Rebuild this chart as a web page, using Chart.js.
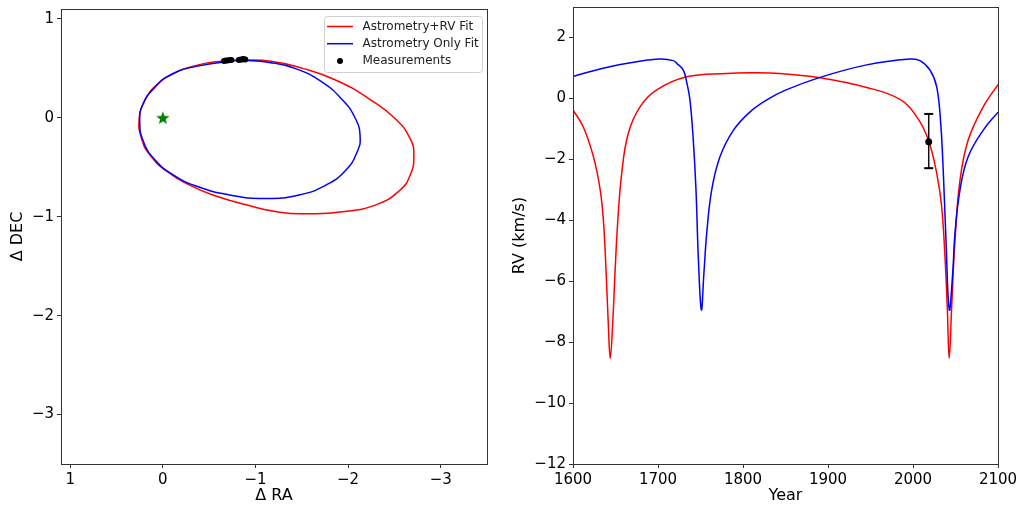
<!DOCTYPE html>
<html>
<head>
<meta charset="utf-8">
<script src="https://cdn.jsdelivr.net/npm/chart.js@4.4.0/dist/chart.umd.min.js"></script>
<style>
  body { margin: 0; background: #fff; }
  .panel { position: absolute; top: 0; width: 512px; height: 510px; }
</style>
</head>
<body>
<div class="panel" style="left:0"><canvas id="orbitChart" width="512" height="510"></canvas></div>
<div class="panel" style="left:512px"><canvas id="rvChart" width="512" height="510"></canvas></div>
<script>
// ---- datos orbita (panel izquierdo) ----
var raTicks  = [1, 0, -1, -2, -3];
var decTicks = [1, 0, -1, -2, -3];

// Astrometry+RV Fit
var fitRA  = [-0.83, -0.65, -0.36, -0.11, 0.07, 0.19, 0.255, 0.23, 0.14, -0.04, -0.29, -0.54, -0.90, -1.26, -1.58, -1.94, -2.30, -2.55, -2.67, -2.71, -2.67, -2.51, -2.23, -1.87, -1.51, -1.15, -0.83];
var fitDec = [0.585, 0.575, 0.53, 0.445, 0.33, 0.18, -0.01, -0.21, -0.375, -0.54, -0.68, -0.78, -0.88, -0.955, -0.97, -0.95, -0.88, -0.74, -0.58, -0.375, -0.21, -0.01, 0.19, 0.38, 0.50, 0.575, 0.585];

// Astrometry Only Fit
var astRA  = [-0.83, -0.36, -0.075, 0.10, 0.22, 0.25, 0.21, 0.086, -0.11, -0.36, -0.72, -1.10, -1.47, -1.76, -1.975, -2.10, -2.13, -2.08, -1.94, -1.72, -1.44, -1.15, -0.83];
var astDec = [0.585, 0.52, 0.43, 0.295, 0.13, -0.04, -0.24, -0.425, -0.575, -0.69, -0.78, -0.815, -0.78, -0.68, -0.53, -0.34, -0.19, -0.01, 0.18, 0.36, 0.495, 0.56, 0.585];

// Measurements
var measRA  = [-0.66, -0.68, -0.70, -0.72, -0.74, -0.82, -0.84, -0.86, -0.87, -0.89];
var measDec = [0.575, 0.58, 0.58, 0.585, 0.585, 0.585, 0.59, 0.59, 0.595, 0.59];

var starRA = [0], starDec = [0];

var legendLabels = ['Astrometry+RV Fit', 'Astrometry Only Fit', 'Measurements'];

// ---- datos RV (panel derecho) ----
var yearTicks = [1600, 1700, 1800, 1900, 2000, 2100];
var rvTicks   = [2, 0, -2, -4, -6, -8, -10, -12];

var fitYears = [1600, 1612, 1624, 1632, 1636, 1639, 1641.5, 1643.8, 1646.7, 1649.4, 1652.5, 1657.3, 1665, 1679, 1698.5, 1733.8, 1780.8, 1808, 1843.5, 1890.6, 1945.5, 1984.7, 2004.3, 2018, 2027.9, 2033.7, 2037.6, 2040.3, 2042.6, 2045.5, 2049.4, 2055.3, 2065, 2082.7, 2100];
var fitRV    = [-0.38, -0.93, -1.91, -3.0, -4.1, -5.74, -7.38, -8.53, -7.38, -5.74, -4.1, -2.46, -1.15, -0.27, 0.28, 0.71, 0.82, 0.84, 0.82, 0.68, 0.36, -0.03, -0.6, -1.36, -2.46, -3.55, -5.19, -6.84, -8.53, -6.84, -4.65, -2.68, -1.36, -0.27, 0.45];

var astYears = [1600, 1635.6, 1675, 1702.4, 1718, 1722, 1729.8, 1734, 1737.6, 1741.5, 1744.7, 1747.4, 1751, 1754, 1757.3, 1763.2, 1773, 1788.6, 1808, 1828, 1850, 1890.6, 1945.5, 1996.5, 2008.2, 2020, 2027.9, 2032.6, 2035.7, 2038.8, 2042.7, 2046.7, 2049.4, 2055.3, 2065, 2082.7, 2100];
var astRV    = [0.72, 0.99, 1.2, 1.29, 1.24, 1.15, 0.93, 0.5, -0.05, -1.36, -3.0, -5.19, -6.94, -5.74, -4.43, -3.0, -1.91, -1.05, -0.45, -0.05, 0.27, 0.69, 1.10, 1.29, 1.24, 0.93, 0.38, -0.82, -2.46, -4.65, -6.94, -5.74, -4.43, -3.0, -1.91, -1.04, -0.45];

var obsYear = [2018.5], obsRV = [-1.42], obsLo = [-2.29], obsHi = [-0.51];

// ---- utilidades ----
Chart.defaults.font.family = "'DejaVu Sans', sans-serif";
Chart.defaults.color = '#000';

function pts(xs, ys) {
  return xs.map(function (x, i) { return { x: x, y: ys[i] }; });
}

function fmt(v) {
  return v < 0 ? '\u2212' + Math.abs(v) : String(v);
}

function eje(min, max, ticks, title, pos, reverse, titlePad) {
  return {
    type: 'linear', position: pos, min: min, max: max, reverse: !!reverse,
    afterBuildTicks: function (s) { s.ticks = ticks.map(function (v) { return { value: v }; }); },
    afterFit: function (s) {
      if (pos === 'left') { s.width = 61; s.paddingTop = 0; s.paddingBottom = 0; }
      else { s.height = 46; s.paddingLeft = 0; s.paddingRight = 0; }
    },
    grid: { drawOnChartArea: false, drawTicks: true, tickLength: 4, color: '#333' },
    border: { display: true, color: '#333', width: 1 },
    ticks: { font: { size: 15 }, padding: 3, maxRotation: 0, autoSkip: false, callback: fmt },
    title: { display: true, text: title, font: { size: 16, lineHeight: 1 }, padding: titlePad }
  };
}

// marco completo alrededor del area de trazado
var marco = {
  id: 'marco',
  afterDraw: function (chart) {
    var a = chart.chartArea, c = chart.ctx;
    c.save();
    c.strokeStyle = '#333';
    c.lineWidth = 1;
    c.strokeRect(Math.round(a.left) + 0.5, Math.round(a.top) + 0.5, Math.round(a.width), Math.round(a.height));
    c.restore();
  }
};

// leyenda dentro del panel de la orbita
var leyenda = {
  id: 'leyenda',
  afterDraw: function (chart) {
    var a = chart.chartArea, c = chart.ctx;
    var w = 158, h = 56, x = a.right - 5 - w, y = a.top + 7;
    c.save();
    c.beginPath();
    c.roundRect(x + 0.5, y + 0.5, w, h, 3);
    c.fillStyle = 'rgba(255,255,255,0.8)';
    c.fill();
    c.strokeStyle = '#d0d0d0';
    c.lineWidth = 1;
    c.stroke();
    var colores = ['#ff0000', '#0000ff', '#000000'];
    c.font = "12px 'DejaVu Sans'";
    c.textBaseline = 'middle';
    for (var i = 0; i < 3; i++) {
      var yy = y + 10.5 + i * 17.2;
      if (i < 2) {
        c.strokeStyle = colores[i];
        c.lineWidth = 1.5;
        c.beginPath();
        c.moveTo(x + 3, yy);
        c.lineTo(x + 29, yy);
        c.stroke();
      } else {
        c.fillStyle = '#000';
        c.beginPath();
        c.arc(x + 16, yy, 3, 0, Math.PI * 2);
        c.fill();
      }
      c.fillStyle = '#222';
      c.fillText(legendLabels[i], x + 38.5, yy);
    }
    c.restore();
  }
};

// estrella verde rellena (marcador '*')
var estrella = document.createElement('canvas');
estrella.width = 16; estrella.height = 16;
(function () {
  var c = estrella.getContext('2d');
  c.beginPath();
  for (var i = 0; i < 10; i++) {
    var r = i % 2 === 0 ? 7 : 2.9;
    var ang = -Math.PI / 2 + i * Math.PI / 5;
    c.lineTo(8 + r * Math.cos(ang), 8.5 + r * Math.sin(ang));
  }
  c.closePath();
  c.fillStyle = '#008000';
  c.fill();
})();

// ---- grafico orbita ----
new Chart(document.getElementById('orbitChart'), {
  type: 'line',
  data: {
    datasets: [
      { label: legendLabels[2], data: pts(measRA, measDec), showLine: false, backgroundColor: '#000', borderColor: '#000', pointRadius: 3, pointBorderWidth: 0 },
      { label: legendLabels[1], data: pts(astRA, astDec), borderColor: '#0000ff', borderWidth: 1.5, pointRadius: 0, tension: 0.5 },
      { label: legendLabels[0], data: pts(fitRA, fitDec), borderColor: '#ff0000', borderWidth: 1.5, pointRadius: 0, tension: 0.5 },
      { label: 'star', data: pts(starRA, starDec), showLine: false, pointStyle: estrella, pointRadius: 8 }
    ]
  },
  options: {
    responsive: false,
    animation: false,
    layout: { padding: { top: 7, right: 25, left: 0, bottom: 0 } },
    plugins: { legend: { display: false }, tooltip: { enabled: false } },
    scales: {
      x: eje(-3.5, 1.1, raTicks, '\u0394 RA', 'bottom', true, { top: 0, bottom: 6 }),
      y: eje(-3.5, 1.1, decTicks, '\u0394 DEC', 'left', false, { top: 10, bottom: 0 })
    }
  },
  plugins: [marco, leyenda]
});

// ---- grafico RV ----
new Chart(document.getElementById('rvChart'), {
  type: 'line',
  data: {
    datasets: [
      { label: 'obs', data: pts(obsYear, obsRV), showLine: false, backgroundColor: '#000', borderColor: '#000', pointRadius: 3.5, pointBorderWidth: 0 },
      { label: 'err', data: pts(obsYear.concat(obsYear), obsHi.concat(obsLo)), borderColor: '#111', borderWidth: 1.5, pointStyle: 'line', pointRadius: 4.5, pointBorderWidth: 2, pointBorderColor: '#000' },
      { label: legendLabels[1], data: pts(astYears, astRV), borderColor: '#0000ff', borderWidth: 1.5, pointRadius: 0, tension: 0.4 },
      { label: legendLabels[0], data: pts(fitYears, fitRV), borderColor: '#ff0000', borderWidth: 1.5, pointRadius: 0, tension: 0.4 }
    ]
  },
  options: {
    responsive: false,
    animation: false,
    layout: { padding: { top: 7, right: 26, left: 0, bottom: 0 } },
    plugins: { legend: { display: false }, tooltip: { enabled: false } },
    scales: {
      x: eje(1600, 2100, yearTicks, 'Year', 'bottom', false, { top: 0, bottom: 6 }),
      y: eje(-12, 3, rvTicks, 'RV (km/s)', 'left', false, { top: 0, bottom: 0 })
    }
  },
  plugins: [marco]
});
</script>
</body>
</html>
